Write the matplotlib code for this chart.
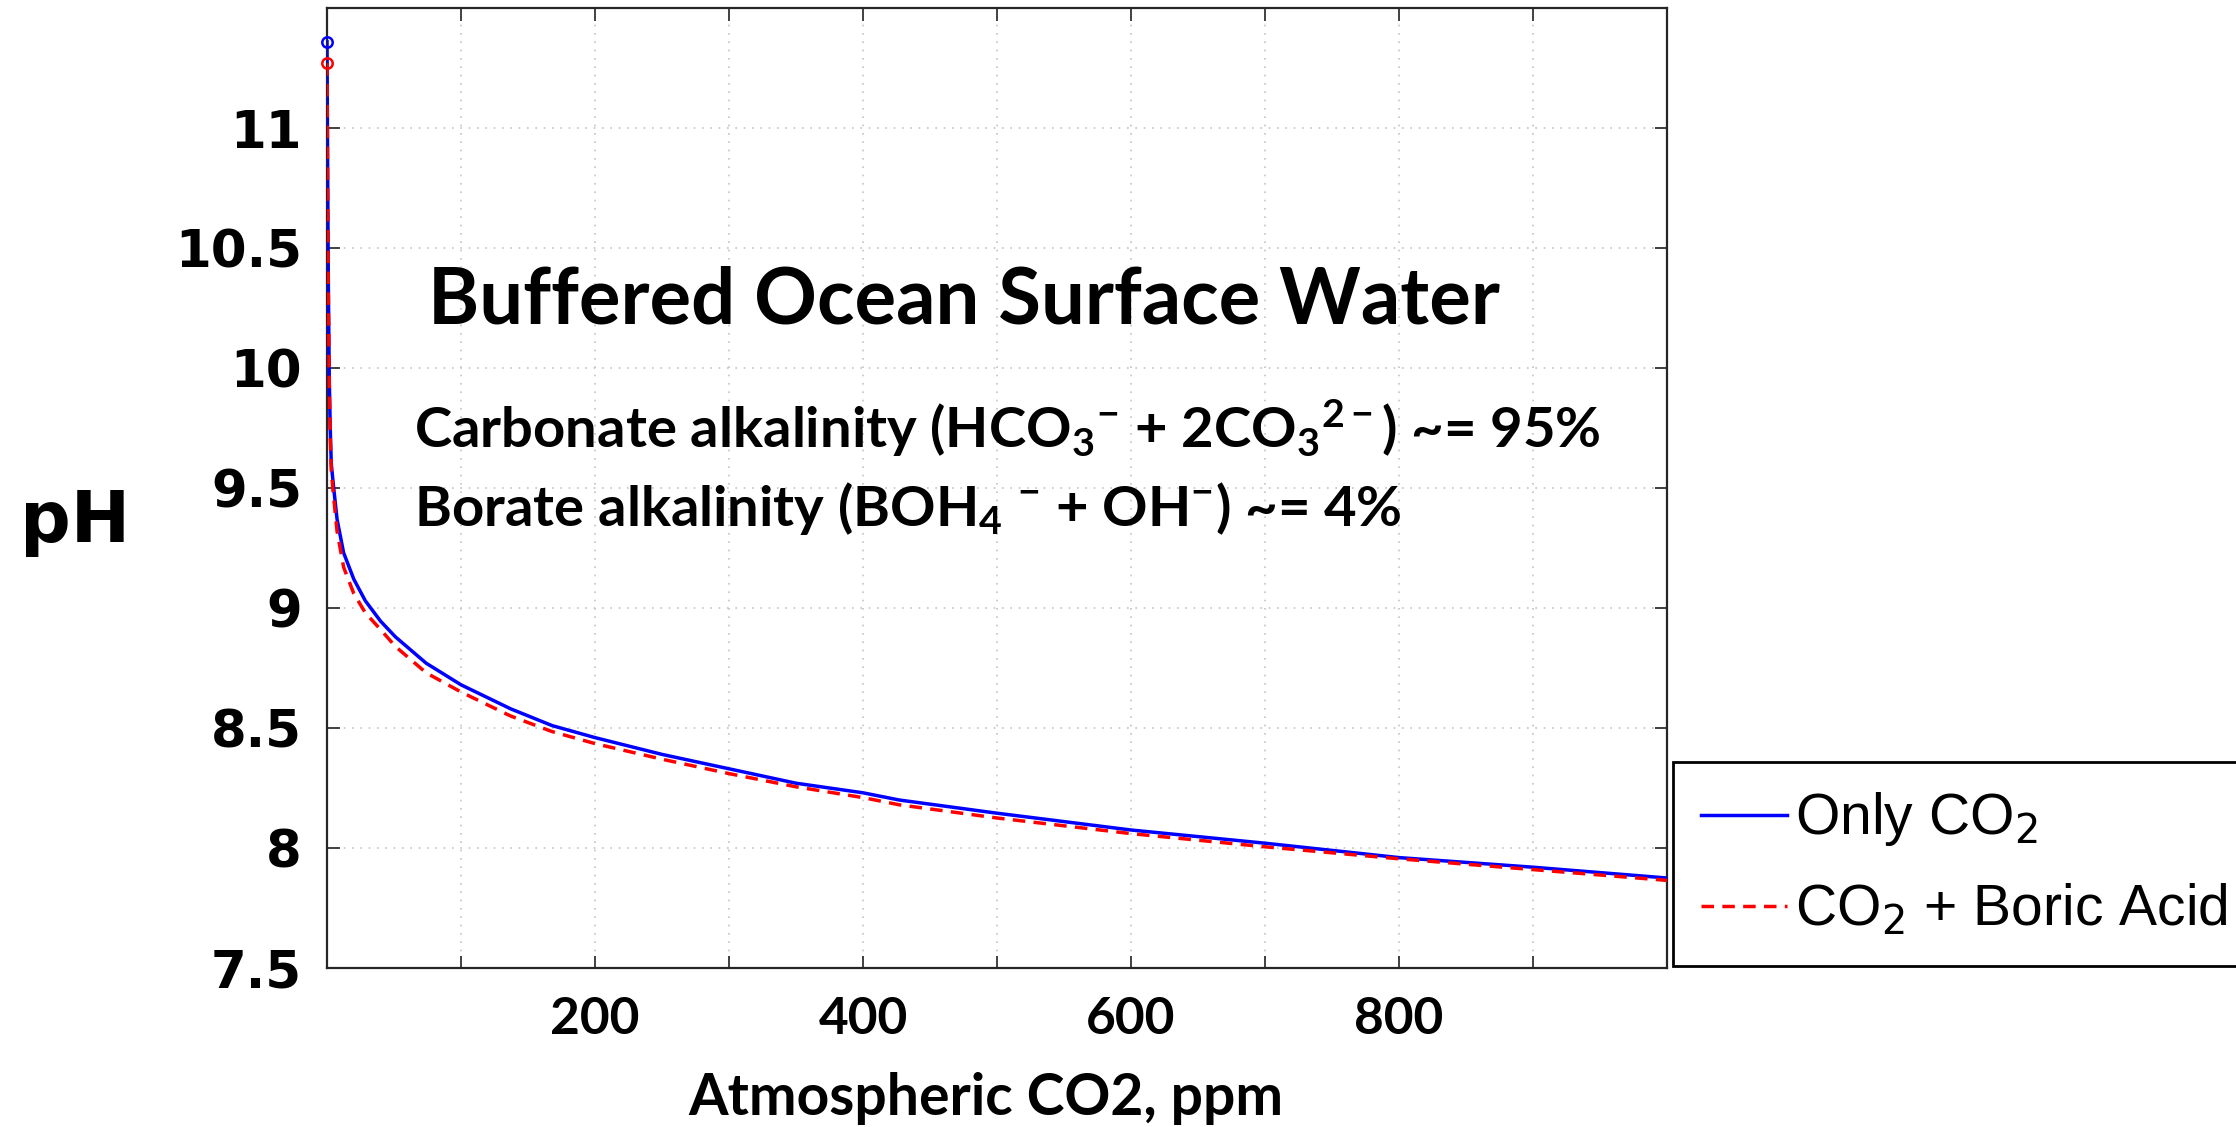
import matplotlib
matplotlib.use("Agg")
import matplotlib.pyplot as plt

# ---- data ----
co2_ppm = [0, 0.5, 1.0, 1.7, 2.4, 3.2, 5, 7.5, 12.4, 20, 28.6, 40, 51, 74, 100,
           137, 168, 200, 250, 300, 350, 400, 427, 500, 600, 700, 800, 900, 1000]
ph_only_co2 = [11.36, 10.80, 10.35, 9.95, 9.75, 9.60, 9.50, 9.37, 9.23, 9.12, 9.03,
               8.945, 8.88, 8.77, 8.68, 8.58, 8.51, 8.46, 8.39, 8.33, 8.27, 8.23,
               8.20, 8.145, 8.075, 8.02, 7.96, 7.92, 7.875]
ph_co2_boric = [11.27, 10.75, 10.30, 9.93, 9.72, 9.57, 9.46, 9.32, 9.17, 9.06, 8.98,
                8.91, 8.84, 8.73, 8.65, 8.55, 8.485, 8.435, 8.37, 8.31, 8.255, 8.21,
                8.18, 8.125, 8.06, 8.005, 7.955, 7.91, 7.865]
series_labels = ["Only CO$_2$", "CO$_2$ + Boric Acid"]

x_ticks = [100, 200, 300, 400, 500, 600, 700, 800, 900]
x_tick_labels = ["", "200", "", "400", "", "600", "", "800", ""]
y_ticks = [7.5, 8, 8.5, 9, 9.5, 10, 10.5, 11]
y_tick_labels = ["7.5", "8", "8.5", "9", "9.5", "10", "10.5", "11"]

title_text = "Buffered Ocean Surface Water"
line1_text = r"Carbonate alkalinity (HCO$_3$$^{-}$ + 2CO$_3$$^{2-}$) ~= 95%"
line2_text = r"Borate alkalinity (BOH$_4$ $^{-}$ + OH$^{-}$) ~= 4%"
x_label = "Atmospheric CO2, ppm"
y_label = "pH"

# ---- style ----
plt.rcParams["mathtext.fontset"] = "custom"
plt.rcParams["mathtext.rm"] = "Lato:bold"
plt.rcParams["mathtext.it"] = "Lato:bold"
plt.rcParams["mathtext.bf"] = "Lato:bold"
plt.rcParams["mathtext.sf"] = "Lato:bold"

W, H = 2236, 1127
fig = plt.figure(figsize=(W / 100, H / 100), dpi=100)
ax_l, ax_r, ax_t, ax_b = 327, 1667, 8, 968
ax = fig.add_axes([ax_l / W, 1 - ax_b / H, (ax_r - ax_l) / W, (ax_b - ax_t) / H])

ax.plot(co2_ppm, ph_only_co2, color=(0, 0, 1), lw=2.5, label=series_labels[0], zorder=3)
ax.plot(co2_ppm, ph_co2_boric, color=(1, 0, 0), lw=2.5, ls=(0, (3.6, 2.4)),
        label=series_labels[1], zorder=4)
ax.plot(co2_ppm[:1], ph_only_co2[:1], "o", mfc="none", mec=(0, 0, 1), ms=7.5, mew=1.8,
        zorder=5, clip_on=False)
ax.plot(co2_ppm[:1], ph_co2_boric[:1], "o", mfc="none", mec=(1, 0, 0), ms=7.5, mew=1.8,
        zorder=5, clip_on=False)

ax.set_xlim(0, 1000)
ax.set_ylim(7.5, 11.5)
ax.set_xticks(x_ticks)
ax.set_xticklabels(x_tick_labels, fontfamily="Lato", fontweight="bold", fontsize=37)
ax.set_yticks(y_ticks)
ax.set_yticklabels(y_tick_labels, fontfamily="DejaVu Sans", fontweight="bold", fontsize=37)
ax.tick_params(axis="both", direction="in", length=9, width=1.3, color="#333333",
               top=True, right=True, labelcolor="black")
ax.tick_params(axis="x", pad=20)
ax.tick_params(axis="y", pad=18)
ax.grid(True, color="#c4c4c4", ls=(0, (1, 4)), lw=1.2)
for s in ax.spines.values():
    s.set_linewidth(1.6)
    s.set_color("#262626")

ax.text((428 - ax_l) / (ax_r - ax_l), (ax_b - 324) / (ax_b - ax_t), title_text,
        transform=ax.transAxes, ha="left", va="baseline", fontfamily="Lato",
        fontweight="bold", fontsize=56)
ax.text((414 - ax_l) / (ax_r - ax_l), (ax_b - 448) / (ax_b - ax_t), line1_text,
        transform=ax.transAxes, ha="left", va="baseline", fontfamily="Lato",
        fontweight="bold", fontsize=40.5)
ax.text((414 - ax_l) / (ax_r - ax_l), (ax_b - 526) / (ax_b - ax_t), line2_text,
        transform=ax.transAxes, ha="left", va="baseline", fontfamily="Lato",
        fontweight="bold", fontsize=40.5)

fig.text(986 / W, 1 - 1115 / H, x_label, ha="center", va="baseline",
         fontfamily="Lato", fontweight="bold", fontsize=41)
fig.text(20 / W, 1 - 542 / H, y_label, ha="left", va="baseline",
         fontfamily="DejaVu Sans", fontweight="bold", fontsize=51)

leg = ax.legend(loc="upper left", bbox_to_anchor=(1673 / W, 1 - 762 / H),
                bbox_transform=fig.transFigure, borderaxespad=0, fancybox=False,
                frameon=True, edgecolor="black", framealpha=1,
                prop={"family": "Liberation Sans", "size": 41},
                handlelength=1.5, handletextpad=0.15, borderpad=0.5, labelspacing=0.6)
leg.get_frame().set_linewidth(2)
for t in leg.get_texts():
    t.set_math_fontfamily("dejavusans")

fig.savefig("out.png", dpi=100)
